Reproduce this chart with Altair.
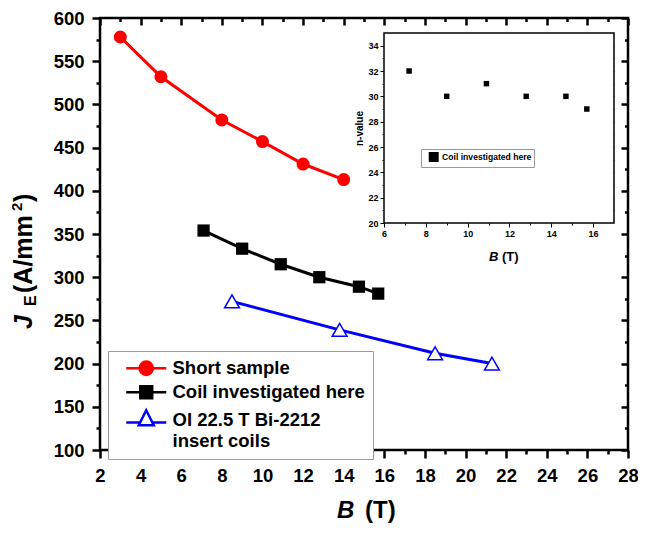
import altair as alt
import pandas as pd

FONT = "Liberation Sans"

# ---------------- data ----------------
short_B = [3, 5, 8, 10, 12, 14]
short_J = [578, 532, 482, 457, 431, 413]
coil_B = [7.1, 9.0, 10.9, 12.8, 14.75, 15.7]
coil_J = [354, 333, 315, 300, 289, 281]
oi_B = [8.5, 13.8, 18.5, 21.3]
oi_J = [272, 239, 212, 200]
nval_B = [7.2, 9.0, 10.9, 12.8, 14.7, 15.7]
nval_n = [32, 30, 31, 30, 30, 29]

series_names = ["Short sample", "Coil investigated here", "OI 22.5 T Bi-2212 insert coils"]
series_colors = ["red", "black", "blue"]
series_fills = ["red", "black", "white"]
inset_series = ["Coil investigated here"]

main_x_ticks = list(range(2, 29, 2))
main_x_minor = list(range(3, 28, 2))
main_y_ticks = list(range(100, 601, 50))
main_y_minor = list(range(125, 576, 50))
inset_x_ticks = list(range(6, 17, 2))
inset_x_minor = list(range(7, 16, 2))
inset_y_ticks = list(range(20, 35, 2))
inset_y_minor = list(range(21, 34, 2))
inset_x_all = list(range(7, 17))
inset_y_all = list(range(21, 35))
inset_box = {"x0": [6], "x1": [17], "y0": [20], "y1": [35]}

df_short = pd.DataFrame({"B": short_B, "J": short_J})
df_coil = pd.DataFrame({"B": coil_B, "J": coil_J})
df_oi = pd.DataFrame({"B": oi_B, "J": oi_J})
df_n = pd.DataFrame({"B": nval_B, "n": nval_n, "label": inset_series * len(nval_B)})
df_leg = pd.DataFrame({"series": series_names})
df_box = pd.DataFrame(inset_box)

W, H = 528, 432
IXL, IXR, IYB, IYT = 284, 514, 205, 15

MX = alt.Scale(domain=[2, 28], nice=False, zero=False)
MY = alt.Scale(domain=[100, 600], nice=False, zero=False)
IX = alt.Scale(domain=[6, 17], range=[IXL, IXR], nice=False, zero=False)
IY = alt.Scale(domain=[20, 35], range=[IYB, IYT], nice=False, zero=False)


def ax(orient, values, size, labels=False, offset=0, fs=18.5, width=2.5, pad=8, title=None, tfs=10):
    kw = dict(orient=orient, values=values, tickSize=size, tickWidth=width, tickColor="black",
              labels=labels, domain=False, offset=offset, grid=False, ticks=True,
              labelFont=FONT, labelFontSize=fs, labelFontWeight="bold", labelColor="black",
              labelPadding=pad, labelFlush=False, labelOverlap=False, labelBound=False)
    if title is not None:
        kw.update(title=title, titleFont=FONT, titleFontSize=tfs, titleFontWeight="bold",
                  titleColor="black", titlePadding=3)
    return alt.Axis(**kw)


def carrier(df, xf, yf, xs, ys, xaxis, yaxis):
    return alt.Chart(df).mark_point(opacity=0).encode(
        x=alt.X(xf, scale=xs, axis=xaxis, title=None),
        y=alt.Y(yf, scale=ys, axis=yaxis, title=None),
    )


# main series
red_line = alt.Chart(df_short).mark_line(color="red", strokeWidth=3).encode(
    x=alt.X("B:Q", scale=MX, axis=ax("bottom", main_x_ticks, 8, labels=True), title=None),
    y=alt.Y("J:Q", scale=MY, axis=ax("left", main_y_ticks, 8, labels=True), title=None),
)
red_pts = alt.Chart(df_short).mark_point(shape="circle", filled=True, color="red", size=170, opacity=1).encode(
    x=alt.X("B:Q", scale=MX, axis=None), y=alt.Y("J:Q", scale=MY, axis=None))
black_line = alt.Chart(df_coil).mark_line(color="black", strokeWidth=3).encode(
    x=alt.X("B:Q", scale=MX, axis=None), y=alt.Y("J:Q", scale=MY, axis=None))
black_pts = alt.Chart(df_coil).mark_point(shape="square", filled=True, color="black", size=150, opacity=1).encode(
    x=alt.X("B:Q", scale=MX, axis=None), y=alt.Y("J:Q", scale=MY, axis=None))
blue_line = alt.Chart(df_oi).mark_line(color="blue", strokeWidth=3).encode(
    x=alt.X("B:Q", scale=MX, axis=None), y=alt.Y("J:Q", scale=MY, axis=None))
blue_pts = alt.Chart(df_oi).mark_point(shape="triangle-up", filled=False, fill="white", stroke="blue",
                                       strokeWidth=1.5, size=220, opacity=1).encode(
    x=alt.X("B:Q", scale=MX, axis=None), y=alt.Y("J:Q", scale=MY, axis=None))

# extra axes of the main frame
minor_main = carrier(df_short, "B:Q", "J:Q", MX, MY,
                     ax("bottom", main_x_minor, 4), ax("left", main_y_minor, 4))
mirror_major = carrier(df_short, "B:Q", "J:Q", MX, MY,
                       ax("top", main_x_ticks, 7, offset=-7), ax("right", main_y_ticks, 7, offset=-7))
mirror_minor = carrier(df_short, "B:Q", "J:Q", MX, MY,
                       ax("top", main_x_minor, 3.5, offset=-3.5), ax("right", main_y_minor, 3.5, offset=-3.5))

# legend (symbols are line + marker)
P_CIRCLE = "M-2.86,0H-0.95M0.95,0H2.86M-0.95,0A0.95,0.95,0,1,1,0.95,0A0.95,0.95,0,1,1,-0.95,0Z"
P_SQUARE = "M-2.86,0H-0.85M0.85,0H2.86M-0.85,-0.85H0.85V0.85H-0.85Z"
P_TRI = "M-2.86,0.33H-0.88M0.88,0.33H2.86M0,-1.43L1.07,0.71L-1.07,0.71Z"
leg = alt.Legend(orient="none", legendX=8, legendY=333, padding=8, strokeColor="#999999",
                 fillColor="white", cornerRadius=0, labelFont=FONT, labelFontSize=18.5,
                 labelFontWeight="bold", labelColor="black", labelLimit=400,
                 symbolSize=196, symbolStrokeWidth=2.5, symbolOffset=21, labelOffset=17,
                 rowPadding=1,
                 labelExpr="datum.label == 'OI 22.5 T Bi-2212 insert coils' ? ['OI 22.5 T Bi-2212', 'insert coils'] : datum.label")
legend_layer = alt.Chart(df_leg).mark_point(size=196, strokeWidth=2.5, opacity=1).encode(
    x=alt.value(-3000), y=alt.value(-3000),
    fill=alt.Fill("series:N", scale=alt.Scale(domain=series_names, range=series_fills), legend=leg, title=None),
    stroke=alt.Stroke("series:N", scale=alt.Scale(domain=series_names, range=series_colors), legend=leg, title=None),
    shape=alt.Shape("series:N", scale=alt.Scale(domain=series_names, range=[P_CIRCLE, P_SQUARE, P_TRI]),
                    legend=leg, title=None),
)

# inset
inset_frame = alt.Chart(df_box).mark_rect(fill="white", stroke="black", strokeWidth=1.5).encode(
    x=alt.X("x0:Q", scale=IX, axis=None), x2="x1:Q",
    y=alt.Y("y0:Q", scale=IY, axis=None), y2="y1:Q")
inset_pts = alt.Chart(df_n).mark_point(filled=True, color="black", size=30, opacity=1).encode(
    x=alt.X("B:Q", scale=IX, title=None,
            axis=ax("bottom", inset_x_ticks, 4, labels=True, offset=-(H - IYB), fs=9, width=1, pad=2)),
    y=alt.Y("n:Q", scale=IY, axis=ax("left", inset_y_ticks, 4, labels=True, offset=-IXL,
                                      fs=9, width=1, pad=2, title="n-value", tfs=10)),
    shape=alt.Shape("label:N", scale=alt.Scale(domain=inset_series, range=["square"]), title=None,
                    legend=alt.Legend(orient="none", legendX=321, legendY=131, padding=2,
                                      strokeColor="#999999", fillColor="white", cornerRadius=0,
                                      labelFont=FONT, labelFontSize=8.6, labelFontWeight="bold",
                                      labelColor="black", labelLimit=300, symbolOffset=4.7,
                                      labelOffset=2.4)),
)
inset_minor = carrier(df_n, "B:Q", "n:Q", IX, IY,
                      ax("bottom", inset_x_minor, 2, offset=-(H - IYB), width=1),
                      ax("left", inset_y_minor, 2, offset=-IXL, width=1))
inset_mirror = carrier(df_n, "B:Q", "n:Q", IX, IY,
                       ax("top", inset_x_all, 3, offset=-(IYT + 3), width=1),
                       ax("right", inset_y_all, 3, offset=-(W - IXR + 3), width=1))


def txt(s, x, y, size, italic=False, angle=0):
    kw = dict(text=s, font=FONT, fontSize=size, fontWeight="bold", align="left",
              baseline="alphabetic", color="black")
    if italic:
        kw["fontStyle"] = "italic"
    if angle:
        kw["angle"] = angle
    return alt.Chart(alt.Data(values=[{}])).mark_text(**kw).encode(x=alt.value(x), y=alt.value(y))


titles = [
    txt("B", 237, 500, 24, italic=True),
    txt("(T)", 265, 500, 24),
    txt("J", -68, 311, 25, italic=True, angle=270),
    txt("E", -64, 288, 16, angle=270),
    txt("(A/mm", -68, 275, 25, angle=270),
    txt("2", -78, 193, 15, angle=270),
    txt(")", -68, 184, 25, angle=270),
    txt("B", 389, 243, 13, italic=True),
    txt("(T)", 402, 243, 13),
]

chart = alt.layer(
    red_line, black_line, blue_line, red_pts, black_pts, blue_pts,
    minor_main, mirror_major, mirror_minor, legend_layer,
    inset_frame, inset_pts, inset_minor, inset_mirror, *titles
).resolve_scale(
    x="independent", y="independent", fill="independent", stroke="independent", shape="independent"
).properties(
    width=W, height=H,
    padding={"left": 92, "top": 10, "right": 10, "bottom": 75},
    autosize=alt.AutoSizeParams(type="none"),
).configure_view(stroke="black", strokeWidth=2.5)

chart.save("out.html", embed_options={"renderer": "svg", "actions": False})
